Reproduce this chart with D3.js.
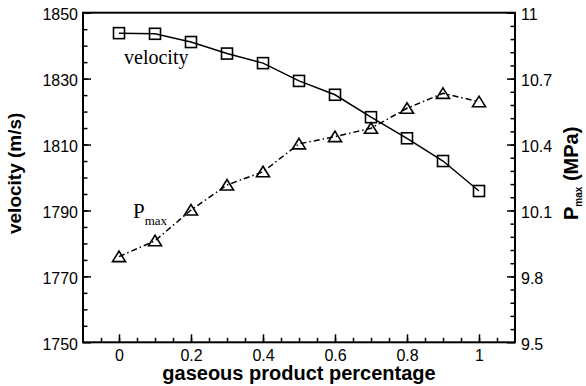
<!DOCTYPE html>
<html>
<head>
<meta charset="utf-8">
<script src="https://cdn.jsdelivr.net/npm/d3@7"></script>
<style>
  body { margin: 0; background: #fff; }
  svg { display: block; }
  .tick text { font-family: "Liberation Sans", Arial, sans-serif; font-size: 16px; fill: #000; }
  .tick line { stroke: #000; stroke-width: 1.5px; }
</style>
</head>
<body>
<svg id="chart"></svg>
<script>
// data
var fractions = [0, 0.1, 0.2, 0.3, 0.4, 0.5, 0.6, 0.7, 0.8, 0.9, 1.0];
var velocity = [1843.8, 1843.6, 1841.1, 1837.6, 1834.7, 1829.3, 1825.1, 1818.3, 1811.9, 1805.0, 1795.9];
var pmax = [9.89, 9.962, 10.102, 10.216, 10.276, 10.403, 10.436, 10.474, 10.565, 10.633, 10.595];

var xTicks = [0, 0.2, 0.4, 0.6, 0.8, 1];
var velTicks = [1750, 1770, 1790, 1810, 1830, 1850];
var pTicks = [9.5, 9.8, 10.1, 10.4, 10.7, 11];

var width = 586, height = 386;
var margin = { top: 12.7, right: 71, bottom: 43.7, left: 83 };
var w = width - margin.left - margin.right,
    h = height - margin.top - margin.bottom;

var svg = d3.select("#chart")
    .attr("width", width)
    .attr("height", height);

var g = svg.append("g")
    .attr("transform", "translate(" + margin.left + "," + margin.top + ")");

var x = d3.scaleLinear().domain([-0.1, 1.1]).range([0, w]);
var yV = d3.scaleLinear().domain([1750, 1850]).range([h, 0]);
var yP = d3.scaleLinear().domain([9.5, 11]).range([h, 0]);

var fmt = d => String(+d.toFixed(2));

// minor ticks
g.append("g")
    .attr("transform", "translate(0," + h + ")")
    .call(d3.axisBottom(x).tickValues(d3.range(-0.05, 1.1, 0.05)).tickSize(-4.5).tickFormat(""));
g.append("g")
    .call(d3.axisLeft(yV).tickValues(d3.range(1755, 1850, 5)).tickSize(-4.5).tickFormat(""));
g.append("g")
    .attr("transform", "translate(" + w + ",0)")
    .call(d3.axisRight(yP).tickValues(d3.range(9.56, 11, 0.06)).tickSize(-4.5).tickFormat(""));

// major ticks
g.append("g")
    .attr("transform", "translate(0," + h + ")")
    .call(d3.axisBottom(x).tickValues(xTicks).tickSize(-8).tickPadding(7).tickFormat(fmt));
g.append("g")
    .call(d3.axisLeft(yV).tickValues(velTicks).tickSize(-8).tickPadding(5).tickFormat(d3.format("d")))
    .selectAll("text").attr("dy", "0.42em");
g.append("g")
    .attr("transform", "translate(" + w + ",0)")
    .call(d3.axisRight(yP).tickValues(pTicks).tickSize(-8).tickPadding(6).tickFormat(fmt))
    .selectAll("text").attr("dy", "0.42em");

g.selectAll(".domain").remove();

// frame
g.append("rect")
    .attr("width", w).attr("height", h)
    .attr("fill", "none")
    .attr("stroke", "#000")
    .attr("stroke-width", 2);

// series
var velLine = d3.line().x((d, i) => x(fractions[i])).y(d => yV(d));
var pLine = d3.line().x((d, i) => x(fractions[i])).y(d => yP(d));

g.append("path")
    .datum(velocity)
    .attr("d", velLine)
    .attr("fill", "none")
    .attr("stroke", "#000")
    .attr("stroke-width", 1.5);

g.append("path")
    .datum(pmax)
    .attr("d", pLine)
    .attr("fill", "none")
    .attr("stroke", "#000")
    .attr("stroke-width", 1.5)
    .attr("stroke-dasharray", "6,3,1.5,3");

g.selectAll(".sq")
    .data(velocity)
    .join("rect")
    .attr("class", "sq")
    .attr("x", (d, i) => x(fractions[i]) - 5.5)
    .attr("y", d => yV(d) - 5.5)
    .attr("width", 11).attr("height", 11)
    .attr("fill", "none")
    .attr("stroke", "#000")
    .attr("stroke-width", 1.6);

g.selectAll(".tri")
    .data(pmax)
    .join("path")
    .attr("class", "tri")
    .attr("transform", (d, i) => "translate(" + x(fractions[i]) + "," + yP(d) + ")")
    .attr("d", "M0,-5.5L6.5,5L-6.5,5Z")
    .attr("fill", "none")
    .attr("stroke", "#000")
    .attr("stroke-width", 1.6);

// in-plot labels
g.append("text")
    .attr("x", x(0.014)).attr("y", yV(1834.4))
    .style("font-family", "'Liberation Serif', 'Times New Roman', serif")
    .style("font-size", "20px")
    .text("velocity");

var pl = g.append("text")
    .attr("x", x(0.039)).attr("y", yV(1787.6))
    .style("font-family", "'Liberation Serif', 'Times New Roman', serif")
    .style("font-size", "21px");
pl.append("tspan").text("P");
pl.append("tspan").attr("dy", 6.5).style("font-size", "13px").text("max");

// axis titles
svg.append("text")
    .attr("x", margin.left + w / 2).attr("y", 380)
    .attr("text-anchor", "middle")
    .style("font-family", "'Liberation Sans', Arial, sans-serif")
    .style("font-weight", "bold")
    .style("font-size", "20px")
    .text("gaseous product percentage");

svg.append("text")
    .attr("transform", "translate(20.7,173.3) rotate(-90)")
    .attr("text-anchor", "middle")
    .style("font-family", "'Liberation Sans', Arial, sans-serif")
    .style("font-weight", "bold")
    .style("font-size", "19px")
    .text("velocity (m/s)");

var rt = svg.append("text")
    .attr("transform", "translate(578.3,173.3) rotate(-90)")
    .attr("text-anchor", "middle")
    .style("font-family", "'Liberation Sans', Arial, sans-serif")
    .style("font-weight", "bold")
    .style("font-size", "20px");
rt.append("tspan").text("P");
rt.append("tspan").attr("dy", 3.4).style("font-size", "10px").text("max");
rt.append("tspan").attr("dy", -3.4).text(" (MPa)");
</script>
</body>
</html>
